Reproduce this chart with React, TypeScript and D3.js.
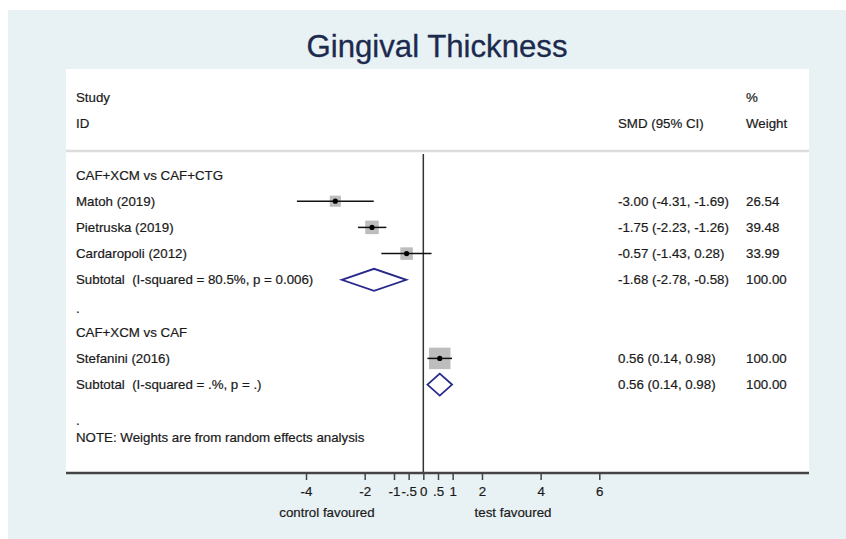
import React, { useEffect, useRef } from 'react';
import * as d3 from 'd3';

// study rows
const studies = ['Matoh (2019)', 'Pietruska (2019)', 'Cardaropoli (2012)', 'Stefanini (2016)'];
const studyRows = [1, 2, 3, 7];
const smd = [-3.0, -1.75, -0.57, 0.56];
const ciLow = [-4.31, -2.23, -1.43, 0.14];
const ciHigh = [-1.69, -1.26, 0.28, 0.98];
const weights = [26.54, 39.48, 33.99, 100.0];

// subgroup summaries
const subLabels = ['Subtotal  (I-squared = 80.5%, p = 0.006)', 'Subtotal  (I-squared = .%, p = .)'];
const subRows = [4, 8];
const subSmd = [-1.68, 0.56];
const subLow = [-2.78, 0.14];
const subHigh = [-0.58, 0.98];
const subWeights = [100.0, 100.0];

const groups = ['CAF+XCM vs CAF+CTG', 'CAF+XCM vs CAF'];
const groupRows = [0, 6];

const ticks = [-4, -2, -1, -0.5, 0, 0.5, 1, 2, 4, 6];

const W = 846;
const H = 539;
const font = '"Liberation Sans", Arial, Helvetica, sans-serif';
const fs = 13.3;

const App: React.FC = () => {
  const svgRef = useRef<SVGSVGElement | null>(null);

  useEffect(() => {
    const svg = d3.select(svgRef.current);
    svg.selectAll('*').remove();

    const panel = { left: 66, right: 809, top: 69, bottom: 473 };

    const x = d3.scaleLinear().domain([-4, 6]).range([306, 599.3]);
    const y = d3.scaleLinear().domain([0, 10]).range([175, 437]);
    const fmt = (v: number) => v.toFixed(2);
    const col = { label: 76, smd: 618, weight: 746 };

    // backgrounds
    svg.append('rect').attr('x', 8).attr('y', 10).attr('width', W - 8).attr('height', H - 10).attr('fill', '#e8f2f4');
    svg.append('rect')
      .attr('x', panel.left).attr('y', panel.top)
      .attr('width', panel.right - panel.left).attr('height', panel.bottom - panel.top)
      .attr('fill', '#fff');

    svg.append('text')
      .attr('x', 306.5).attr('y', 57)
      .attr('textLength', 261).attr('lengthAdjust', 'spacingAndGlyphs')
      .attr('font-family', font).attr('font-size', 30.5)
      .attr('fill', '#1c2a4e')
      .attr('stroke', '#1c2a4e').attr('stroke-width', 0.3)
      .text('Gingival Thickness');

    const txt = (xx: number, yy: number, s: string, anchor = 'start') =>
      svg.append('text')
        .attr('x', xx).attr('y', yy).attr('dy', '0.35em')
        .attr('text-anchor', anchor)
        .attr('font-family', font).attr('font-size', fs)
        .attr('fill', '#1a1a1a')
        .attr('stroke', '#1a1a1a').attr('stroke-width', 0.2)
        .style('white-space', 'pre')
        .text(s);

    // header
    txt(col.label, 97, 'Study');
    txt(col.label, 123, 'ID');
    txt(col.smd, 123, 'SMD (95% CI)');
    txt(col.weight, 97, '%');
    txt(col.weight, 123, 'Weight');

    svg.append('line')
      .attr('x1', panel.left).attr('x2', panel.right)
      .attr('y1', 151).attr('y2', 151)
      .attr('stroke', '#dcdcdc').attr('stroke-width', 2.5);

    // zero line
    svg.append('line')
      .attr('x1', x(0)).attr('x2', x(0))
      .attr('y1', 154).attr('y2', panel.bottom)
      .attr('stroke', '#333').attr('stroke-width', 1.5);

    groups.forEach((g, i) => txt(col.label, y(groupRows[i]), g));
    txt(col.label, y(5) + 2, '.');
    txt(col.label, y(9) + 10, '.');
    txt(col.label, y(10), 'NOTE: Weights are from random effects analysis');

    // studies
    studies.forEach((s, i) => {
      const yy = y(studyRows[i]);
      txt(col.label, yy, s);
      txt(col.smd, yy, `${fmt(smd[i])} (${fmt(ciLow[i])}, ${fmt(ciHigh[i])})`);
      txt(col.weight, yy, fmt(weights[i]));
      const side = 2.15 * Math.sqrt(weights[i]);
      svg.append('rect')
        .attr('x', x(smd[i]) - side / 2).attr('y', yy - side / 2)
        .attr('width', side).attr('height', side)
        .attr('fill', '#bdbdbd');
      svg.append('line')
        .attr('x1', x(ciLow[i])).attr('x2', x(ciHigh[i]))
        .attr('y1', yy).attr('y2', yy)
        .attr('stroke', '#111').attr('stroke-width', 1.5);
      svg.append('circle')
        .attr('cx', x(smd[i])).attr('cy', yy).attr('r', 2.6)
        .attr('fill', '#000');
    });

    // subtotals
    subLabels.forEach((s, i) => {
      const yy = y(subRows[i]);
      txt(col.label, yy, s);
      txt(col.smd, yy, `${fmt(subSmd[i])} (${fmt(subLow[i])}, ${fmt(subHigh[i])})`);
      txt(col.weight, yy, fmt(subWeights[i]));
      const hh = 11;
      const pts: [number, number][] = [
        [x(subLow[i]), yy], [x(subSmd[i]), yy - hh], [x(subHigh[i]), yy], [x(subSmd[i]), yy + hh],
      ];
      svg.append('path')
        .attr('d', d3.line()(pts) + 'Z')
        .attr('fill', 'none')
        .attr('stroke', '#27288a').attr('stroke-width', 1.8);
    });

    // axis
    const axis = d3.axisBottom(x)
      .tickValues(ticks)
      .tickSize(7)
      .tickFormat((d) => {
        const v = +d;
        if (v === 0.5) return '.5';
        if (v === -0.5) return '-.5';
        return String(v);
      });
    const ax = svg.append('g').attr('transform', `translate(0,${panel.bottom})`).call(axis);
    ax.select('.domain').remove();
    ax.selectAll('line').attr('stroke', '#444').attr('stroke-width', 1.5);
    ax.selectAll('text')
      .attr('font-family', font).attr('font-size', fs).attr('fill', '#1a1a1a')
      .attr('stroke', '#1a1a1a').attr('stroke-width', 0.2)
      .attr('y', 14);
    svg.append('line')
      .attr('x1', panel.left).attr('x2', panel.right)
      .attr('y1', panel.bottom).attr('y2', panel.bottom)
      .attr('stroke', '#444').attr('stroke-width', 2.5);

    txt(327, 512, 'control favoured', 'middle');
    txt(513, 512, 'test favoured', 'middle');
  }, []);

  return (
    <svg
      ref={svgRef}
      width={W}
      height={H}
      style={{ position: 'absolute', left: 0, top: 0, background: '#fff' }}
    />
  );
};

export default App;
